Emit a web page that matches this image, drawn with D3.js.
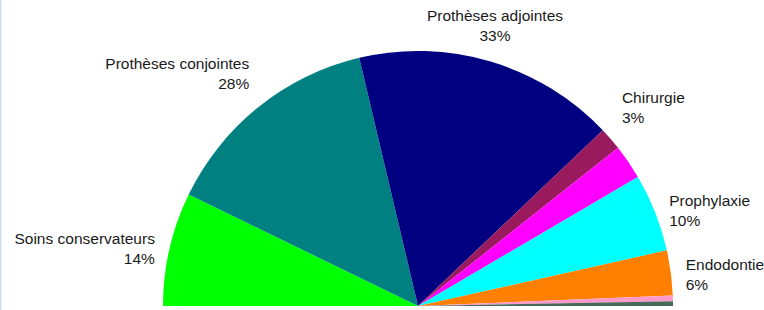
<!DOCTYPE html>
<html>
<head>
<meta charset="utf-8">
<script src="https://cdn.jsdelivr.net/npm/d3@7/dist/d3.min.js"></script>
<style>
  body { margin:0; background:#fff; }
  svg { display:block; }
</style>
</head>
<body>
<div id="chart"></div>
<script>
// categories, values (share of the half pie) and which ones get a label
const categories = ["Soins conservateurs","Prothèses conjointes","Prothèses adjointes","Chirurgie","Orthodontie","Prophylaxie","Endodontie","Parodontie","Autres"]
const values     = [14.4, 28.2, 33.2, 2.9, 4.4, 9.9, 5.7, 0.7, 0.6]
const labelled   = [true, true, true, true, false, true, true, false, false]
const colors     = ["#00ff00","#008080","#000080","#9a1a5e","#ff00ff","#00ffff","#ff8000","#ff99cc","#476b5a"]

function render(){
  let width = 764, height = 310,
      cx = 418, cy = 306,
      radius = 255

  const total = d3.sum(values)
  const fmt = d3.format(".0%")
  const data = categories.map((c,i) => ({ name:c, value:values[i], label:labelled[i], color:colors[i] }))

  const pie = d3.pie().value(d => d.value).sort(null)
                .startAngle(-Math.PI/2).endAngle(Math.PI/2)
  const arc = d3.arc().innerRadius(0).outerRadius(radius)

  let svg = d3.select("#chart").append("svg")
              .attr("width",width).attr("height",height)
              .attr("viewBox",`0 0 ${width} ${height}`)

  // thin frame line on the left
  svg.append("line").attr("x1",0.5).attr("x2",0.5).attr("y1",0).attr("y2",height)
     .attr("stroke","#c9d9ee").attr("stroke-width",1.5)

  let g = svg.append("g").attr("transform",`translate(${cx},${cy})`)
  const arcs = pie(data)

  g.selectAll("path")
    .data(arcs)
    .enter()
    .append("path")
    .attr("d",arc)
    .attr("fill",d => d.data.color)

  // labels: outside the rim, on the middle angle of each slice
  const R = radius + 15
  g.selectAll("g.lab")
    .data(arcs.filter(d => d.data.label))
    .enter()
    .append("g").attr("class","lab")
    .each(function(d){
      const a = (d.startAngle + d.endAngle)/2       // 0 = up, clockwise
      const px = R*Math.sin(a), py = -R*Math.cos(a)
      const elev = Math.PI/2 - Math.abs(a)           // angle above horizontal
      let anchor = Math.abs(Math.sin(a)) < 0.4 ? "middle" : (px < 0 ? "end" : "start")
      let dy = elev > 0.55 ? -26 : -1
      const t = d3.select(this).append("text")
        .attr("text-anchor",anchor)
        .attr("font-family","'Liberation Sans', Arial, sans-serif")
        .attr("font-size",15.5)
        .attr("fill","#1a1a1a")
      t.append("tspan").attr("x",px).attr("y",py+dy).text(d.data.name)
      t.append("tspan").attr("x",px).attr("y",py+dy+20).text(fmt(d.data.value/total))
    })
}

render()
</script>
</body>
</html>
